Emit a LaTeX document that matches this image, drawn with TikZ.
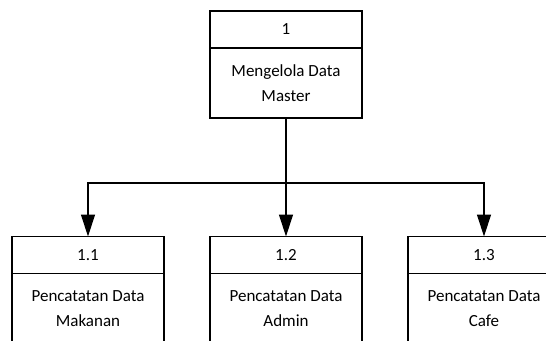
\documentclass[tikz,border=0pt]{standalone}
\usepackage{fontspec}
\setmainfont{Carlito}
\usetikzlibrary{positioning}
\usetikzlibrary{arrows.meta}

\begin{document}
\begin{tikzpicture}[x=1pt,y=-1pt,
	numbox/.style={draw, line width=1.3pt, minimum width=152pt, minimum height=37pt, inner sep=0pt, outer sep=0pt, font=\fontsize{17}{20}\selectfont},
	procbox/.style={draw, line width=1.3pt, minimum width=152pt, minimum height=70pt, inner sep=0pt, outer sep=0pt, align=center, font=\fontsize{17}{25}\selectfont},
	arr/.style={line width=1.3pt, -{Triangle[length=22pt,width=14pt]}}]
	\useasboundingbox (0,0) rectangle (546,340);
	\clip (0,0) rectangle (546,340);
	\node[numbox] (n1) at (286,29.5){1};
	\node[procbox, below=0pt of n1] (p1){Mengelola Data\\Master};
	\node[numbox] (n11) at (88,255){1.1};
	\node[procbox, below=0pt of n11] (p11){Pencatatan Data\\Makanan};
	\node[numbox] (n12) at (286,255){1.2};
	\node[procbox, below=0pt of n12] (p12){Pencatatan Data\\Admin};
	\node[numbox] (n13) at (484,255){1.3};
	\node[procbox, below=0pt of n13] (p13){Pencatatan Data\\Cafe};
	\coordinate (j) at (286,183);
	\draw[line width=1.3pt] (p1) -- (j);
	\draw[arr] (j) -| (n11);
	\draw[arr] (j) -- (n12);
	\draw[arr] (j) -| (n13);
\end{tikzpicture}
\end{document}
